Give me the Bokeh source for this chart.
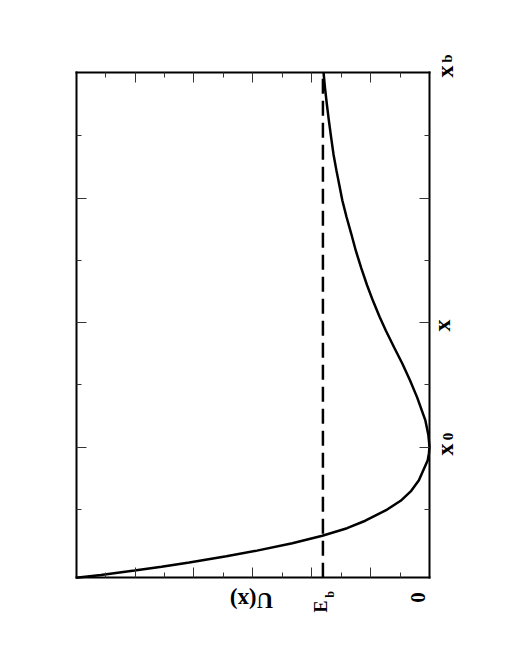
import math
from bokeh.plotting import figure
from bokeh.models import Range1d, LinearAxis, FixedTicker
from bokeh.core.properties import value
from bokeh.embed import file_html
from bokeh.resources import INLINE

# ---- data ----
# vertical direction: coordinate x (arbitrary units; x0 = 2, xb at top)
x_coord = [8.02, 7.77, 7.52, 7.25, 6.97, 6.70, 6.44, 6.20, 5.96, 5.70, 5.43,
           5.15, 4.88, 4.60, 4.35, 4.10, 3.87, 3.60, 3.34, 3.07, 2.80, 2.43,
           2.20, 2.11, 2.00, 1.90, 1.79, 1.47, 1.30, 1.14, 1.00, 0.82, 0.70,
           0.58, 0.46, 0.34, 0.25, 0.15, 0.08, 0.02, -0.05, -0.096]
# horizontal direction: potential U(x) (arbitrary units; 0 at right)
u_val = [1.80, 1.775, 1.745, 1.71, 1.67, 1.63, 1.58, 1.53, 1.48, 1.41, 1.33,
         1.25, 1.16, 1.06, 0.96, 0.85, 0.74, 0.60, 0.46, 0.33, 0.21, 0.07,
         0.02, 0.01, 0.00, 0.01, 0.03, 0.18, 0.31, 0.49, 0.72, 1.09, 1.40,
         1.82, 2.33, 2.93, 3.45, 4.08, 4.55, 5.01, 5.58, 6.00]
E_b = 1.81
x0 = 2.0
x_mid = 4.0
x_b = 8.02
u_major = [1, 2, 3, 4, 5]
u_minor = [0.5, 1.5, 2.5, 3.5, 4.5, 5.5]
x_major = [2, 4, 6]
x_minor = [1, 3, 5, 7]

U_START, U_END = 6.0, 0.0          # left and right edge of the box
X_START, X_END = -0.096, 8.02      # bottom and top edge of the box

# layout (page pixels)
FW, FH = 504, 652
BOX_L, BOX_R, BOX_T, BOX_B = 75.7, 429.0, 71.7, 577.3
FONT = "Liberation Serif"

kx = (BOX_R - BOX_L) / (U_START - U_END)
ky = (BOX_B - BOX_T) / (X_END - X_START)

def ux(sx):
    return U_END + (BOX_R - sx) / kx

def vy(sy):
    return X_START + (BOX_B - sy) / ky

p = figure(frame_width=FW, frame_height=FH, output_backend="svg",
           toolbar_location=None,
           x_range=Range1d(ux(0), ux(FW)), y_range=Range1d(vy(FH), vy(0)),
           x_axis_location=None, y_axis_location=None,
           min_border=0)
p.background_fill_color = "white"
p.border_fill_color = "white"
p.outline_line_color = None
for g in p.grid:
    g.visible = False

def box_axis(side, loc, bounds, ticks, minor):
    ax = LinearAxis(fixed_location=loc, bounds=bounds,
                    ticker=FixedTicker(ticks=ticks, minor_ticks=minor))
    ax.axis_line_color = "black"
    ax.axis_line_width = 2
    ax.axis_line_cap = "square"
    ax.major_tick_in = 10
    ax.major_tick_out = 0
    ax.minor_tick_in = 5
    ax.minor_tick_out = 0
    ax.major_tick_line_color = "#333333"
    ax.minor_tick_line_color = "#333333"
    ax.major_tick_line_width = 1
    ax.minor_tick_line_width = 1
    ax.major_label_text_color = None
    p.add_layout(ax, side)

box_axis("below", X_START, (U_END, U_START), u_major, u_minor)
box_axis("above", X_END, (U_END, U_START), u_major, u_minor)
box_axis("left", U_START, (X_START, X_END), x_major, x_minor)
box_axis("right", U_END, (X_START, X_END), x_major, x_minor)

p.segment(x0=[E_b], y0=[X_START], x1=[E_b], y1=[X_END],
          line_color="black", line_width=2.5, line_dash="15 7")
p.line(u_val, x_coord, line_color="black", line_width=2.5)

def lab(text, sx, sy, size, angle):
    p.text(x=[ux(sx)], y=[vy(sy)], text=[text], angle=angle,
           text_align="center", text_baseline="middle",
           text_font=value(FONT), text_font_style="bold",
           text_font_size=value(f"{size}px"), text_color="black")

ccw = math.pi / 2
# labels on the right (x axis of the rotated chart)
lab("x", 444.5, 449, 24, ccw)
lab("0", 447, 436, 15, ccw)
lab("x", 441, 325, 24, ccw)
lab("x", 444, 71, 24, ccw)
lab("b", 446, 58, 15, ccw)
# labels at the bottom (U axis of the rotated chart)
lab("0", 417, 597, 21, ccw)
lab("E", 320, 606, 18, ccw)
lab("b", 329, 594, 12, ccw)
lab("U(x)", 251, 600, 23, math.pi)

open("out.html", "w").write(file_html(p, INLINE))
